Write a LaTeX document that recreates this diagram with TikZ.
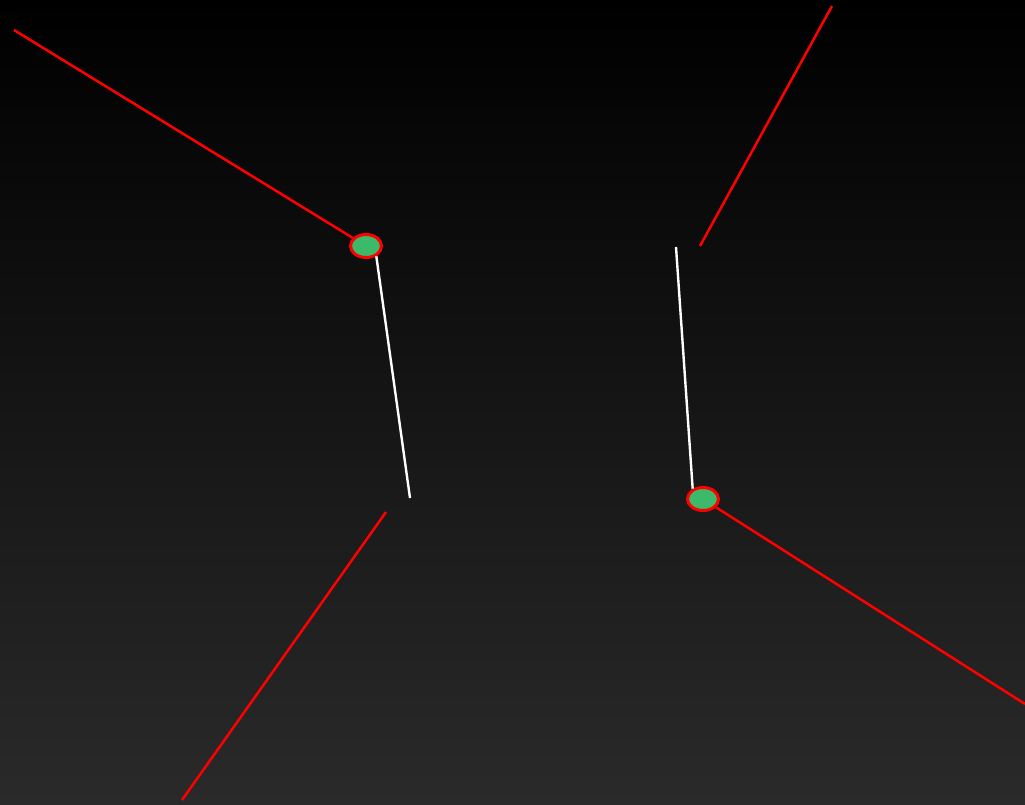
\documentclass[tikz,border=0pt]{standalone}
\usetikzlibrary{shapes.geometric}
\definecolor{bgtop}{RGB}{0,0,0}
\definecolor{bgbot}{RGB}{42,42,42}
\definecolor{joint}{RGB}{60,185,105}
\definecolor{redline}{RGB}{255,0,0}
\begin{document}
\begin{tikzpicture}[x=1pt,y=-1pt,
  redseg/.style={draw=redline,line width=2.5pt},
  whiteseg/.style={draw=white,line width=2.4pt},
  jointnode/.style={ellipse,draw=redline,fill=joint,line width=3pt,minimum width=31pt,minimum height=23pt,inner sep=0pt}]
\useasboundingbox (0,0) rectangle (1025,804);
\shade[top color=bgtop,bottom color=bgbot] (0,0) rectangle (1025,804);
\node[jointnode] (j1) at (366,246) {};
\node[jointnode] (j2) at (703,499) {};
\coordinate (a1) at (14,30);
\coordinate (a2) at (410,498);
\coordinate (b1) at (386,512);
\coordinate (b2) at (182,800);
\coordinate (c1) at (832,6);
\coordinate (c2) at (700,246);
\coordinate (d1) at (676,247);
\coordinate (e2) at (1025,704);
\draw[redseg] (a1) -- (j1);
\draw[whiteseg] (j1.-45) -- (a2);
\draw[redseg] (b1) -- (b2);
\draw[redseg] (c1) -- (c2);
\draw[whiteseg] (d1) -- (j2.135);
\draw[redseg] (j2) -- (e2);
\end{tikzpicture}
\end{document}
